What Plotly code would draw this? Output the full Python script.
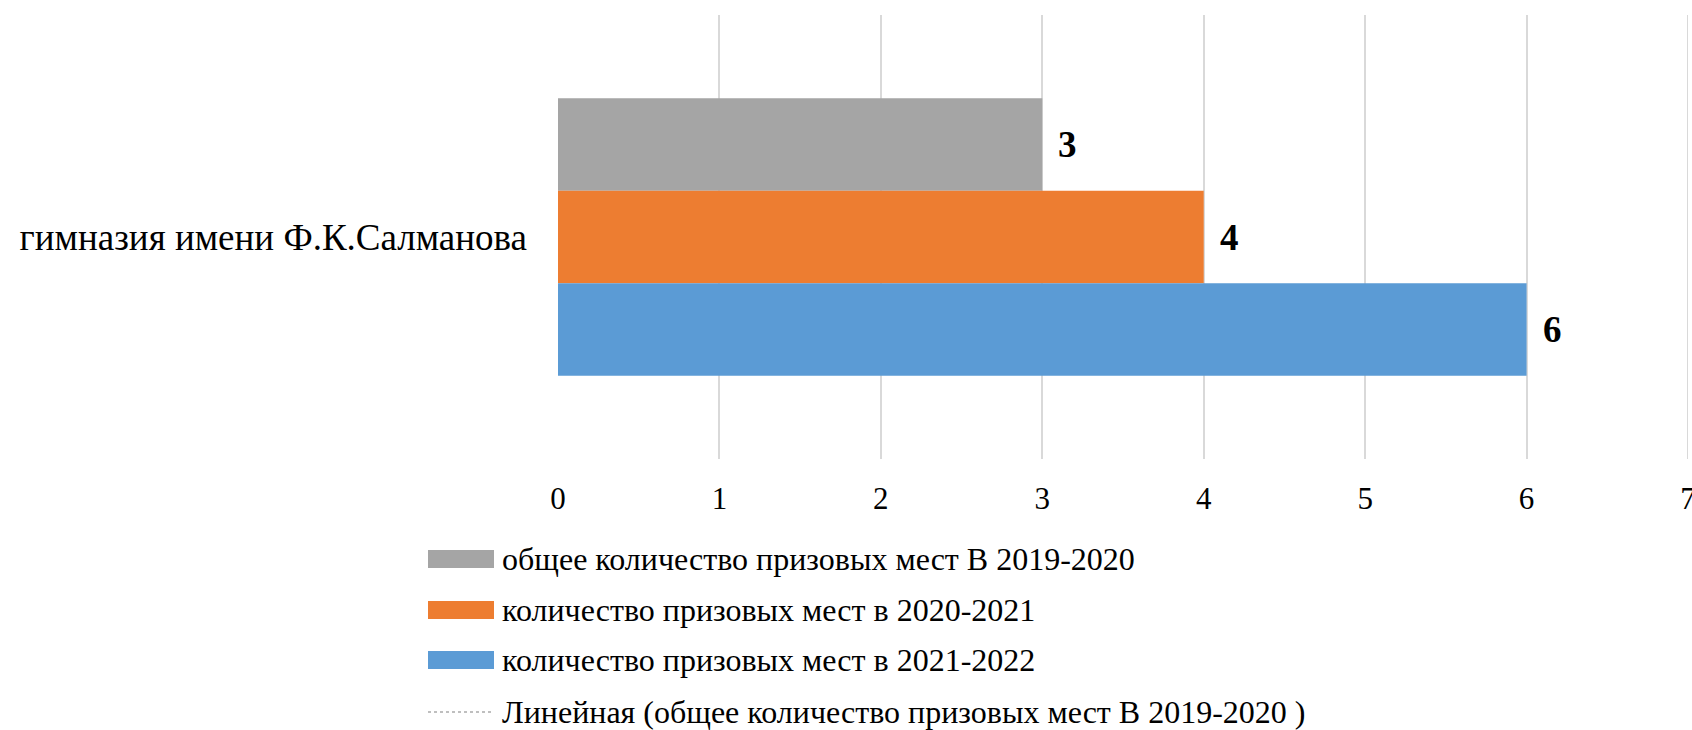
import plotly.graph_objects as go

# ---- data ----
categories = ["гимназия имени Ф.К.Салманова"]
series_names = [
    "общее количество призовых мест В 2019-2020",
    "количество призовых мест в 2020-2021",
    "количество призовых мест в 2021-2022",
]
values_2019_2020 = [3]
values_2020_2021 = [4]
values_2021_2022 = [6]
trend_name = "Линейная (общее количество призовых мест В 2019-2020 )"
x_ticks = [0, 1, 2, 3, 4, 5, 6, 7]

colors = ["#A5A5A5", "#ED7D31", "#5B9BD5"]
series_values = [values_2019_2020, values_2020_2021, values_2021_2022]

FONT = "Liberation Serif, Times New Roman, serif"
W, H = 1692, 730
L, R, T, B = 558, 4, 15, 271
PW, PH = W - L - R, H - T - B

def px_x(p):
    return (p - L) / PW

def px_y(p):
    return (H - B - p) / PH

fig = go.Figure()
for name, vals, col in zip(series_names, series_values, colors):
    fig.add_trace(go.Bar(
        x=vals, y=categories, orientation="h", name=name,
        marker=dict(color=col, line=dict(width=0)),
        showlegend=False,
    ))

bargap = 0.375
bar_px = PH * (1 - bargap) / 3
annotations = []
for i, vals in enumerate(series_values):
    for c, v in zip(categories, vals):
        annotations.append(dict(
            x=v, y=c, xref="x", yref="y", text=f"<b>{v}</b>", showarrow=False,
            xanchor="left", yanchor="middle", xshift=14, yshift=(1 - i) * bar_px,
            font=dict(family=FONT, size=37, color="#000000"),
        ))

# manual legend (wide swatches, as in the original)
shapes = []
legend_rows = [559, 610, 660, 712]
sw_x0, sw_x1, text_x = 428, 494, 500
for i, (name, col) in enumerate(zip(series_names, colors)):
    yc = legend_rows[i]
    shapes.append(dict(type="rect", xref="paper", yref="paper",
                       x0=px_x(sw_x0), x1=px_x(sw_x1),
                       y0=px_y(yc + 9), y1=px_y(yc - 9),
                       fillcolor=col, line=dict(width=0)))
    annotations.append(dict(x=px_x(text_x), y=px_y(yc), xref="paper", yref="paper",
                            text=name, showarrow=False, xanchor="left", yanchor="middle",
                            font=dict(family=FONT, size=32, color="#000000")))
yc = legend_rows[3]
shapes.append(dict(type="line", xref="paper", yref="paper",
                   x0=px_x(sw_x0), x1=px_x(sw_x1), y0=px_y(yc), y1=px_y(yc),
                   line=dict(color="#BFBFBF", width=2, dash="dot")))
annotations.append(dict(x=px_x(text_x), y=px_y(yc), xref="paper", yref="paper",
                        text=trend_name, showarrow=False, xanchor="left", yanchor="middle",
                        font=dict(family=FONT, size=32, color="#000000")))

# gridline at the right end of the axis (plotly omits the edge gridline)
shapes.append(dict(type="line", xref="x", yref="paper", x0=x_ticks[-1], x1=x_ticks[-1],
                   y0=0, y1=1, line=dict(color="#D9D9D9", width=2), layer="below"))

fig.update_layout(
    width=W, height=H, autosize=False,
    margin=dict(l=L, r=R, t=T, b=B, autoexpand=False),
    paper_bgcolor="white", plot_bgcolor="white",
    barmode="group", bargap=bargap, bargroupgap=0,
    showlegend=False,
    font=dict(family=FONT, color="#000000"),
    xaxis=dict(range=[0, 7], tickvals=x_ticks, showgrid=True, gridcolor="#D9D9D9",
               gridwidth=2, zeroline=False, showline=False, automargin=False,
               tickfont=dict(family=FONT, size=31, color="#000000"),
               ticklabelstandoff=18, ticklabeloverflow="allow"),
    yaxis=dict(autorange="reversed", showgrid=False, zeroline=False, showline=False,
               automargin=False,
               tickfont=dict(family=FONT, size=37, color="#000000"),
               ticklabelstandoff=30),
    shapes=shapes, annotations=annotations,
)

fig.write_html("out.html",
               config={"displayModeBar": False, "responsive": False},
               post_script="document.body.style.margin='0';document.body.style.overflow='hidden';")
